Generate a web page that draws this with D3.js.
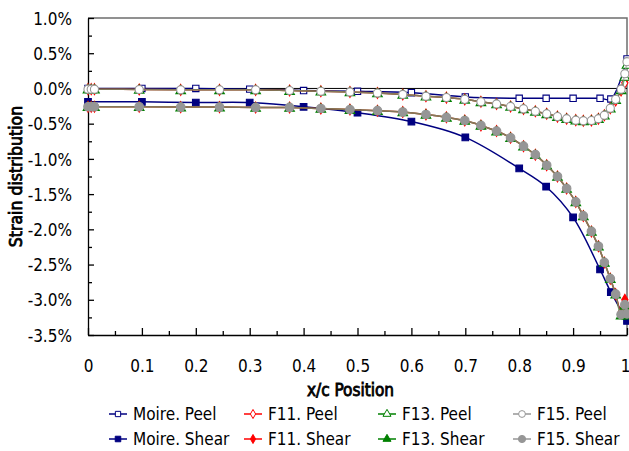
<!DOCTYPE html>
<html>
<head>
<meta charset="utf-8">
<script src="https://cdn.jsdelivr.net/npm/d3@7"></script>
<style>
  html, body { margin: 0; padding: 0; background: #fff; }
  svg { display: block; }
  text { font-family: "Liberation Sans Narrow", "DejaVu Sans Condensed", sans-serif; fill: #000; }
  .title { font-weight: normal; stroke: #000; stroke-width: 0.8px; }
</style>
</head>
<body>
<svg id="chart" width="629" height="451"></svg>
<script>
// Moire measurements (x/c positions and strains in %)
const moireX = [0, 0.1, 0.2, 0.3, 0.4, 0.5, 0.6, 0.7, 0.8, 0.85, 0.9, 0.95, 0.97, 1.0];
const moirePeel = [0.0, 0.0, 0.0, -0.01, -0.03, -0.04, -0.06, -0.12, -0.14, -0.14, -0.14, -0.14, -0.15, 0.42];
const moireShear = [-0.19, -0.19, -0.20, -0.20, -0.26, -0.345, -0.47, -0.695, -1.135, -1.395, -1.83, -2.57, -2.89, -3.30];

// Finite element results share one mesh of x/c positions
const feX = [0, 0.006, 0.012, 0.095, 0.172, 0.244, 0.311, 0.374, 0.432, 0.486, 0.537, 0.584, 0.627, 0.665,
  0.699, 0.729, 0.758, 0.784, 0.808, 0.83, 0.851, 0.871, 0.888, 0.905, 0.919, 0.934, 0.947, 0.958,
  0.969, 0.979, 0.989, 0.996, 1.0];

const f15Peel = [-0.01, -0.01, -0.01, -0.015, -0.02, -0.02, -0.02, -0.03, -0.04, -0.05, -0.065, -0.085, -0.11, -0.13,
  -0.155, -0.19, -0.22, -0.255, -0.29, -0.325, -0.36, -0.40, -0.43, -0.45, -0.46, -0.455, -0.43, -0.38,
  -0.28, -0.155, -0.01, 0.21, 0.38];
const f15Shear = [-0.26, -0.26, -0.26, -0.26, -0.265, -0.265, -0.27, -0.27, -0.285, -0.30, -0.316, -0.335, -0.37, -0.41,
  -0.455, -0.525, -0.605, -0.70, -0.82, -0.94, -1.09, -1.25, -1.42, -1.61, -1.81, -2.03, -2.24, -2.47,
  -2.70, -2.92, -3.21, -3.07, -3.20];

const f13Peel = [-0.01, -0.01, -0.01, -0.015, -0.02, -0.02, -0.02, -0.03, -0.04, -0.05, -0.065, -0.085, -0.11, -0.13,
  -0.155, -0.19, -0.22, -0.255, -0.29, -0.325, -0.36, -0.40, -0.43, -0.45, -0.46, -0.455, -0.43, -0.38,
  -0.28, -0.16, -0.02, 0.17, 0.34];
const f13Shear = [-0.26, -0.26, -0.26, -0.26, -0.265, -0.265, -0.27, -0.27, -0.285, -0.30, -0.316, -0.335, -0.37, -0.41,
  -0.455, -0.525, -0.605, -0.70, -0.82, -0.94, -1.09, -1.25, -1.42, -1.61, -1.81, -2.03, -2.24, -2.47,
  -2.70, -2.92, -3.22, -3.08, -3.22];

const f11Peel = [-0.01, -0.01, -0.01, -0.015, -0.02, -0.02, -0.02, -0.03, -0.04, -0.05, -0.065, -0.085, -0.11, -0.13,
  -0.155, -0.19, -0.22, -0.255, -0.29, -0.325, -0.36, -0.40, -0.43, -0.45, -0.46, -0.455, -0.43, -0.38,
  -0.28, -0.17, -0.03, 0.08, 0.17];
const f11Shear = [-0.26, -0.26, -0.26, -0.26, -0.265, -0.265, -0.27, -0.27, -0.285, -0.30, -0.316, -0.335, -0.37, -0.41,
  -0.455, -0.525, -0.605, -0.70, -0.82, -0.94, -1.09, -1.25, -1.42, -1.61, -1.81, -2.03, -2.24, -2.47,
  -2.70, -2.92, -3.18, -3.00, -3.10];

const xTicks = [0, 0.1, 0.2, 0.3, 0.4, 0.5, 0.6, 0.7, 0.8, 0.9, 1];
const xTickLabels = ["0", "0.1", "0.2", "0.3", "0.4", "0.5", "0.6", "0.7", "0.8", "0.9", "1"];
const yTicks = [-3.5, -3.0, -2.5, -2.0, -1.5, -1.0, -0.5, 0.0, 0.5, 1.0];
const yTickLabels = ["-3.5%", "-3.0%", "-2.5%", "-2.0%", "-1.5%", "-1.0%", "-0.5%", "0.0%", "0.5%", "1.0%"];

const svg = d3.select("#chart");
const L = 88, R = 627, T = 18, B = 335;
const x = d3.scaleLinear().domain([0, 1]).range([L, R]);
const y = d3.scaleLinear().domain([-3.5, 1.0]).range([B, T]);

// plot frame (top and right edges)
svg.append("path")
  .attr("d", `M${L},${T}H${R}V${B}`)
  .attr("fill", "none").attr("stroke", "#6e6e6e").attr("stroke-width", 1.5);

// zero reference line
svg.append("line")
  .attr("x1", L).attr("x2", R).attr("y1", y(0)).attr("y2", y(0))
  .attr("stroke", "#000").attr("stroke-width", 1);

// y axis: inward ticks, major every 0.5 %, minor every 0.25 %
const yMinor = d3.range(-3.25, 1.0, 0.5);
svg.append("g").attr("transform", `translate(${L},0)`)
  .call(d3.axisLeft(y).tickValues(yMinor).tickSize(-4).tickFormat(""))
  .call(g => g.select(".domain").remove());
const yAxis = svg.append("g").attr("transform", `translate(${L},0)`)
  .call(d3.axisLeft(y).tickValues(yTicks).tickSize(-6).tickSizeOuter(0).tickPadding(16)
    .tickFormat((d, i) => yTickLabels[i]));
yAxis.selectAll("text").style("font-size", "17px").attr("dy", "0.36em");

// x axis: inward ticks, major every 0.1, minor every 0.05
const xMinor = d3.range(0.05, 1.0, 0.1);
svg.append("g").attr("transform", `translate(0,${B})`)
  .call(d3.axisBottom(x).tickValues(xMinor).tickSize(-4).tickFormat(""))
  .call(g => g.select(".domain").remove());
const xAxis = svg.append("g").attr("transform", `translate(0,${B})`)
  .call(d3.axisBottom(x).tickValues(xTicks).tickSize(-7).tickSizeOuter(0)
    .tickFormat((d, i) => xTickLabels[i]));
xAxis.selectAll("text").style("font-size", "17px").attr("y", 31).attr("dy", "0.36em")
  .attr("dx", d => (d === 1 ? -2 : 0));

svg.selectAll(".domain, .tick line").attr("stroke", "#000").attr("stroke-width", 1.3);

// axis titles
svg.append("text").attr("class", "title")
  .attr("x", (L + R) / 2 - 7).attr("y", 390).attr("dy", "0.36em")
  .attr("text-anchor", "middle")
  .style("font-size", "17px")
  .text("x/c Position");
svg.append("text").attr("class", "title")
  .attr("transform", `translate(16,${(T + B) / 2}) rotate(-90)`)
  .attr("dy", "0.36em")
  .attr("text-anchor", "middle")
  .style("font-size", "17.5px")
  .text("Strain distribution");

// series definitions
const navy = "#000080", red = "#ff0000", green = "#008000", gray = "#969696";
const series = [
  { name: "Moire. Peel", xs: moireX, ys: moirePeel, color: navy, sym: d3.symbolSquare, size: 40, open: true, lineOp: 1, lw: 1.5 },
  { name: "Moire. Shear", xs: moireX, ys: moireShear, color: navy, sym: d3.symbolSquare, size: 44, open: false, lineOp: 1, lw: 1.5 },
  { name: "F11. Peel", xs: feX, ys: f11Peel, color: red, sym: d3.symbolDiamond, size: 34, open: true, lineOp: 1, lw: 1.5 },
  { name: "F11. Shear", xs: feX, ys: f11Shear, color: red, sym: d3.symbolDiamond, size: 34, open: false, lineOp: 1, lw: 1.5 },
  { name: "F13. Peel", xs: feX, ys: f13Peel, color: green, sym: d3.symbolTriangle, size: 40, open: true, lineOp: 0.6, lw: 1.5 },
  { name: "F13. Shear", xs: feX, ys: f13Shear, color: green, sym: d3.symbolTriangle, size: 40, open: false, lineOp: 0.6, lw: 1.5 },
  { name: "F15. Peel", xs: feX, ys: f15Peel, color: gray, sym: d3.symbolCircle, size: 52, open: true, lineOp: 0.6, lw: 1.5 },
  { name: "F15. Shear", xs: feX, ys: f15Shear, color: gray, sym: d3.symbolCircle, size: 58, open: false, lineOp: 0.6, lw: 1.5 }
];

const line = d3.line().x(d => x(d[0])).y(d => y(d[1])).curve(d3.curveCatmullRom.alpha(0.5));

series.forEach(s => {
  const pts = s.xs.map((v, i) => [v, s.ys[i]]);
  const g = svg.append("g");
  g.append("path").datum(pts)
    .attr("d", line)
    .attr("fill", "none").attr("stroke", s.color)
    .attr("stroke-opacity", s.lineOp).attr("stroke-width", s.lw);
  g.selectAll("path.m").data(pts).join("path").attr("class", "m")
    .attr("transform", d => `translate(${x(d[0])},${y(d[1]) + (s.sym === d3.symbolTriangle ? 1 : 0)})`)
    .attr("d", d3.symbol().type(s.sym).size(s.size))
    .attr("fill", s.open ? "#fff" : s.color)
    .attr("stroke", s.color).attr("stroke-width", 1.1);
});

// legend: two rows (peel, shear), four columns (Moire, F11, F13, F15)
const legCols = [109, 244, 378, 513];
const legRows = [414, 439];
series.forEach((s, i) => {
  const cx = legCols[Math.floor(i / 2)];
  const cy = legRows[i % 2];
  const g = svg.append("g").attr("transform", `translate(${cx},${cy})`);
  g.append("line").attr("x1", 0).attr("x2", 18).attr("y1", 0).attr("y2", 0)
    .attr("stroke", s.color).attr("stroke-width", 1.5);
  g.append("path").attr("transform", "translate(9,0)")
    .attr("d", d3.symbol().type(s.sym).size(s.size * 0.7))
    .attr("fill", s.open ? "#fff" : s.color)
    .attr("stroke", s.color).attr("stroke-width", 1);
  g.append("text").attr("x", 24).attr("dy", "0.36em")
    .style("font-size", "17px").text(s.name);
});
</script>
</body>
</html>
